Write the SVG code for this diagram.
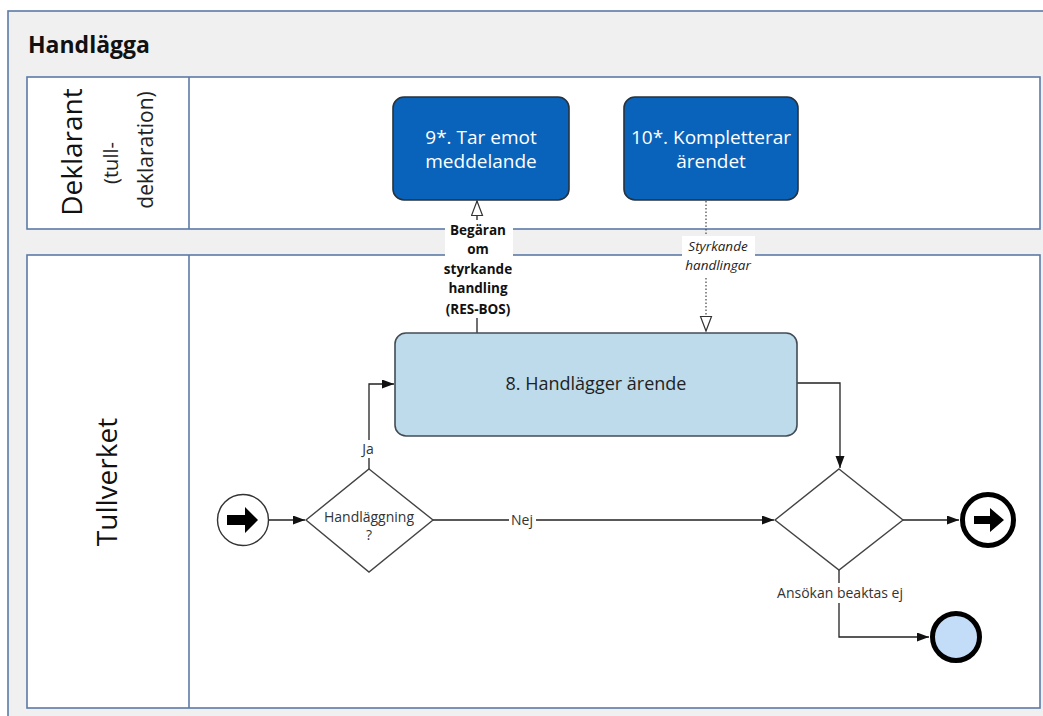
<svg xmlns="http://www.w3.org/2000/svg" width="1043" height="716" viewBox="0 0 1043 716">
<style>
.lane{fill:#ffffff;stroke:#5b7aa6;stroke-width:1.6}
.t{font-family:"Open Sans","Liberation Sans",sans-serif}
.dark{fill:#0963bb;stroke:#27323d;stroke-width:1.6}
.light{fill:#bddbea;stroke:#434c55;stroke-width:1.6}
.gw{fill:#ffffff;stroke:#444;stroke-width:1.4}
.flow{fill:none;stroke:#222;stroke-width:1.3}
.lbl{font-family:"Open Sans","Liberation Sans",sans-serif;font-size:14px;fill:#333;text-anchor:middle}
.bg{fill:#ffffff}
</style>
<defs>
<marker id="fa" markerUnits="userSpaceOnUse" markerWidth="13" markerHeight="10" refX="12" refY="4.5" orient="auto"><path d="M0,0 L12,4.5 L0,9 z" fill="#111"/></marker>
<marker id="oa" markerUnits="userSpaceOnUse" markerWidth="17" markerHeight="14" refX="15.5" refY="6.5" orient="auto"><path d="M1,1 L15.5,6.5 L1,12 z" fill="#fff" stroke="#333" stroke-width="1.2"/></marker>
</defs>
<rect x="0" y="0" width="1043" height="716" fill="#ffffff"/>
<rect x="8" y="11" width="1100" height="800" fill="#f0f0f0" stroke="#5b7aa6" stroke-width="1.6"/>
<text class="t" x="28" y="53" font-size="23" font-weight="bold" fill="#111">Handlägga</text>

<g id="lane-deklarant">
<rect class="lane" x="27" y="77" width="1013" height="152"/>
<line x1="189" y1="77" x2="189" y2="229" stroke="#5b7aa6" stroke-width="1.6"/>
<text class="t" transform="translate(82,152) rotate(-90)" text-anchor="middle" font-size="28" fill="#111">Deklarant</text>
<text class="t" transform="translate(118,163) rotate(-90)" text-anchor="middle" font-size="20" fill="#222">(tull-</text>
<text class="t" transform="translate(153,150) rotate(-90)" text-anchor="middle" font-size="21" fill="#222">deklaration)</text>
</g>
<g id="lane-tullverket">
<rect class="lane" x="27" y="255" width="1013" height="453"/>
<line x1="189" y1="255" x2="189" y2="708" stroke="#5b7aa6" stroke-width="1.6"/>
<text class="t" transform="translate(117,482) rotate(-90)" text-anchor="middle" font-size="28" fill="#111">Tullverket</text>
</g>

<g id="connectors">
<rect class="bg" x="445" y="219" width="68" height="101"/>
<line class="flow" x1="477" y1="333" x2="477" y2="318"/>
<line class="flow" x1="477" y1="220" x2="477" y2="201" marker-end="url(#oa)"/>
<g class="t" font-size="13.5" font-weight="bold" fill="#111" text-anchor="middle">
<text x="478" y="235">Begäran</text>
<text x="478" y="254">om</text>
<text x="478" y="274">styrkande</text>
<text x="478" y="293">handling</text>
<text x="478" y="314">(RES-BOS)</text>
</g>
<line x1="706" y1="201" x2="706" y2="331" stroke="#444" stroke-width="1.2" stroke-dasharray="1.5,2" marker-end="url(#oa)"/>
<rect class="bg" x="682" y="236" width="73" height="40"/>
<g class="t" font-size="13.5" font-style="italic" fill="#222" text-anchor="middle">
<text x="718" y="251">Styrkande</text>
<text x="718" y="270">handlingar</text>
</g>
<line class="flow" x1="269" y1="520" x2="305" y2="520" marker-end="url(#fa)"/>
<polyline class="flow" points="369,469 369,384 394,384" marker-end="url(#fa)"/>
<rect class="bg" x="358" y="440" width="22" height="18"/>
<text class="lbl" x="368" y="454">Ja</text>
<line class="flow" x1="433" y1="520" x2="774" y2="520" marker-end="url(#fa)"/>
<rect class="bg" x="509" y="511" width="27" height="18"/>
<text class="lbl" x="522" y="525">Nej</text>
<polyline class="flow" points="797,383 840,383 840,468" marker-end="url(#fa)"/>
<line class="flow" x1="903" y1="520" x2="959" y2="520" marker-end="url(#fa)"/>
<polyline class="flow" points="839,570 839,637 929,637" marker-end="url(#fa)"/>
<rect class="bg" x="770" y="583" width="140" height="20"/>
<text class="lbl" x="840" y="598">Ansökan beaktas ej</text>
</g>

<g id="task9">
<rect class="dark" x="393" y="97" width="176" height="103" rx="11"/>
<text class="t" x="481" y="144" font-size="19" fill="#fff" text-anchor="middle">9*. Tar emot</text>
<text class="t" x="481" y="168" font-size="19" fill="#fff" text-anchor="middle">meddelande</text>
</g>
<g id="task10">
<rect class="dark" x="624" y="97" width="174" height="103" rx="11"/>
<text class="t" x="711" y="144" font-size="19" fill="#fff" text-anchor="middle">10*. Kompletterar</text>
<text class="t" x="711" y="168" font-size="19" fill="#fff" text-anchor="middle">ärendet</text>
</g>
<g id="task8">
<rect class="light" x="395" y="333" width="402" height="103" rx="11"/>
<text class="t" x="596" y="390" font-size="18" fill="#222" text-anchor="middle">8. Handlägger ärende</text>
</g>
<g id="start">
<circle cx="243" cy="520" r="25.5" fill="#fff" stroke="#333" stroke-width="1.4"/>
<path d="M227,515 L245,515 L245,507 L258,520 L245,533 L245,525 L227,525 z" fill="#000"/>
</g>
<g id="gateway1">
<polygon class="gw" points="369,469 433,520 369,572 306,520"/>
<text class="lbl" x="369" y="522">Handläggning</text>
<text class="lbl" x="369" y="540">?</text>
</g>
<g id="gateway2">
<polygon class="gw" points="839,469 903,520 839,570 775,520"/>
</g>
<g id="end1">
<circle cx="988" cy="520" r="25.5" fill="#fff" stroke="#000" stroke-width="5"/>
<path d="M974,516 L990,516 L990,508 L1004,520 L990,532 L990,524 L974,524 z" fill="#000"/>
</g>
<g id="end2">
<circle cx="956" cy="637" r="23.5" fill="#c3dcf8" stroke="#000" stroke-width="5"/>
</g>
</svg>
